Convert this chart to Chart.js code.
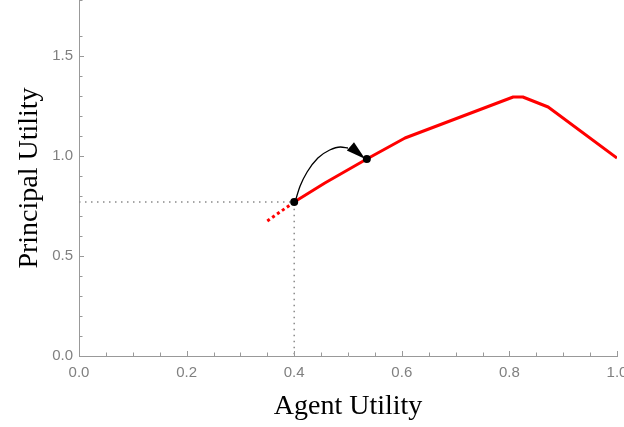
<!DOCTYPE html>
<html>
<head>
<meta charset="utf-8">
<script src="https://cdn.jsdelivr.net/npm/chart.js@4/dist/chart.umd.min.js"></script>
<style>
  html, body { margin: 0; padding: 0; background: #fff; overflow: hidden; }
  #wrap { width: 624px; height: 427px; overflow: hidden; }
</style>
</head>
<body>
<div id="wrap"><canvas id="chart" width="640" height="427"></canvas></div>
<script>
// values
const frontierX = [0.40, 0.457, 0.535, 0.606, 0.807, 0.825, 0.872, 1.0];
const frontierY = [0.77, 0.865, 0.985, 1.09, 1.295, 1.295, 1.245, 0.99];
const extX = [0.35, 0.40];
const extY = [0.675, 0.77];
const guideX = [0, 0.40, 0.40];
const guideY = [0.77, 0.77, 0];
const dotX = [0.40, 0.535];
const dotY = [0.77, 0.985];
const arcX = [0.4015, 0.411, 0.424, 0.444, 0.466, 0.486, 0.50];
const arcY = [0.77, 0.85, 0.92, 0.99, 1.03, 1.045, 1.04];
const arrowBase = [0.5045, 1.048];
const arrowTip = [0.532, 0.985];
const xTicksMajor = [0, 0.2, 0.4, 0.6, 0.8, 1.0];
const yTicksMajor = [0, 0.5, 1.0, 1.5];

const pts = (xs, ys) => xs.map((x, i) => ({ x: x, y: ys[i] }));
const isMajor = (v, list) => list.some(m => Math.abs(m - v) < 1e-6);

// inward ticks + arrowhead + dots
const extras = {
  id: "extras",
  afterDraw(chart) {
    const ctx = chart.ctx;
    const xs = chart.scales.x, ys = chart.scales.y;
    const area = chart.chartArea;
    ctx.save();
    ctx.strokeStyle = "#999";
    ctx.lineWidth = 1;
    xs.ticks.forEach(t => {
      const px = Math.round(xs.getPixelForValue(t.value)) + 0.5;
      const len = isMajor(t.value, xTicksMajor) ? 5 : 3.5;
      ctx.beginPath();
      ctx.moveTo(px, area.bottom);
      ctx.lineTo(px, area.bottom - len);
      ctx.stroke();
    });
    ys.ticks.forEach(t => {
      const py = Math.round(ys.getPixelForValue(t.value)) + 0.5;
      const len = isMajor(t.value, yTicksMajor) ? 5 : 3.5;
      ctx.beginPath();
      ctx.moveTo(area.left, py);
      ctx.lineTo(area.left + len, py);
      ctx.stroke();
    });
    // arrowhead
    const bx = xs.getPixelForValue(arrowBase[0]), by = ys.getPixelForValue(arrowBase[1]);
    const tx = xs.getPixelForValue(arrowTip[0]), ty = ys.getPixelForValue(arrowTip[1]);
    const ang = Math.atan2(ty - by, tx - bx);
    const hw = 5.5;
    ctx.fillStyle = "#000";
    ctx.beginPath();
    ctx.moveTo(tx, ty);
    ctx.lineTo(bx + Math.sin(ang) * hw, by - Math.cos(ang) * hw);
    ctx.lineTo(bx - Math.sin(ang) * hw, by + Math.cos(ang) * hw);
    ctx.closePath();
    ctx.fill();
    dotX.forEach((x, i) => {
      ctx.beginPath();
      ctx.arc(xs.getPixelForValue(x), ys.getPixelForValue(dotY[i]), 4, 0, Math.PI * 2);
      ctx.fill();
    });
    ctx.restore();
  }
};

new Chart(document.getElementById("chart"), {
  type: "scatter",
  data: {
    datasets: [
      { data: pts(guideX, guideY), showLine: true, borderColor: "#8a8a8a", borderWidth: 1.5,
        borderDash: [1.5, 4.5], pointRadius: 0, tension: 0 },
      { data: pts(extX, extY), showLine: true, borderColor: "#ff0000", borderWidth: 3,
        borderDash: [3, 3], pointRadius: 0 },
      { data: pts(frontierX, frontierY), showLine: true, borderColor: "#ff0000", borderWidth: 3,
        pointRadius: 0, borderJoinStyle: "round" },
      { data: pts(arcX, arcY), showLine: true, borderColor: "#000", borderWidth: 1.3,
        pointRadius: 0, cubicInterpolationMode: "monotone" }
    ]
  },
  options: {
    responsive: false,
    animation: false,
    layout: { padding: { left: 0, right: 23, top: 0, bottom: 0 } },
    plugins: { legend: { display: false }, tooltip: { enabled: false } },
    scales: {
      x: {
        type: "linear", min: 0, max: 1,
        grid: { display: false, drawTicks: false },
        border: { display: true, color: "#999", width: 1 },
        ticks: {
          stepSize: 0.05, autoSkip: false, maxRotation: 0, padding: 8,
          color: "#808080", font: { family: "Liberation Sans, Arial, sans-serif", size: 15 },
          callback: v => isMajor(v, xTicksMajor) ? v.toFixed(1) : ""
        },
        title: { display: true, text: "Agent Utility", color: "#000",
          font: { family: "Liberation Serif, Times New Roman, serif", size: 28, lineHeight: 1.2 },
          padding: { top: 0, bottom: 4 } },
        afterFit: s => { s.height = 71; s.paddingLeft = 0; s.paddingRight = 0; }
      },
      y: {
        type: "linear", min: 0, max: 1.78,
        grid: { display: false, drawTicks: false },
        border: { display: true, color: "#999", width: 1 },
        ticks: {
          stepSize: 0.1, autoSkip: false, padding: 6,
          color: "#808080", font: { family: "Liberation Sans, Arial, sans-serif", size: 15 },
          callback: v => isMajor(v, yTicksMajor) ? v.toFixed(1) : ""
        },
        title: { display: true, text: "Principal Utility", color: "#000",
          font: { family: "Liberation Serif, Times New Roman, serif", size: 28, lineHeight: 1.2 },
          padding: { top: 13, bottom: 0 } },
        afterFit: s => { s.width = 79; s.paddingTop = 0; s.paddingBottom = 0; }
      }
    }
  },
  plugins: [extras]
});
</script>
</body>
</html>
